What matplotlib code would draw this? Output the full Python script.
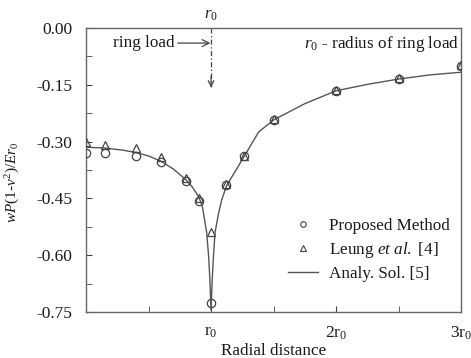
import matplotlib
matplotlib.use("Agg")
import matplotlib.pyplot as plt
from matplotlib.lines import Line2D

plt.rcParams['font.family'] = ['Liberation Serif', 'DejaVu Serif']
plt.rcParams['mathtext.fontset'] = 'custom'
plt.rcParams['mathtext.rm'] = 'Liberation Serif'
plt.rcParams['mathtext.it'] = 'Liberation Serif:italic'
plt.rcParams['mathtext.bf'] = 'Liberation Serif:bold'

# Data
x_pts = [0.0, 0.15, 0.4, 0.6, 0.8, 0.9, 1.0, 1.12, 1.26, 1.5, 2.0, 2.5, 3.0]
proposed = [-0.329, -0.329, -0.338, -0.354, -0.405, -0.458, -0.725, -0.416, -0.339, -0.242, -0.166, -0.134, -0.101]
leung = [-0.300, -0.310, -0.317, -0.341, -0.397, -0.449, -0.539, -0.413, -0.337, -0.240, -0.164, -0.132, -0.099]

x_line = [0.0, 0.15, 0.3, 0.4, 0.5, 0.6, 0.7, 0.8, 0.85, 0.9, 0.93, 0.965, 0.98, 0.99, 1.0,
          1.01, 1.02, 1.032, 1.06, 1.085, 1.125, 1.2, 1.26, 1.38, 1.5, 1.75, 2.0, 2.25, 2.5, 2.75, 3.0]
analy = [-0.315, -0.317, -0.323, -0.329, -0.338, -0.352, -0.373, -0.401, -0.42, -0.445, -0.47, -0.54,
         -0.60, -0.66, -0.745, -0.66, -0.60, -0.54, -0.49, -0.454, -0.416, -0.375, -0.342, -0.275,
         -0.243, -0.200, -0.166, -0.149, -0.135, -0.124, -0.117]

y_ticks = [0.00, -0.15, -0.30, -0.45, -0.60, -0.75]
y_ticklabels = ["0.00", "-0.15", "-0.30", "-0.45", "-0.60", "-0.75"]
x_ticks = [1, 2, 3]
x_ticklabels = [r"r$_{\rm 0}$", r"2r$_{\rm 0}$", r"3r$_{\rm 0}$"]

c = '#444444'
tc = '#1a1a1a'
fig = plt.figure(figsize=(4.71, 3.58), dpi=100)
ax = fig.add_axes([0.1826, 0.1285, 0.7964, 0.7935])

ax.plot(x_line, analy, color='#555555', lw=1.0, label='Analy. Sol. [5]', zorder=2)
ax.plot(x_pts, proposed, linestyle='none', marker='o', ms=6, mfc='none', mec=c, mew=0.9,
        label='Proposed Method', zorder=3)
ax.plot(x_pts, leung, linestyle='none', marker='^', ms=6, mfc='none', mec=c, mew=0.9,
        label=r'Leung $et\ al.$ [4]', zorder=3)

ax.set_xlim(0, 3)
ax.set_ylim(-0.75, 0.0)
ax.set_yticks(y_ticks)
ax.set_yticklabels(y_ticklabels)
ax.set_yticks([-0.075, -0.225, -0.375, -0.525, -0.675], minor=True)
ax.set_xticks(x_ticks)
ax.set_xticklabels(x_ticklabels)
ax.set_xticks([0.5, 1.5, 2.5], minor=True)
ax.tick_params(direction='in', which='both', colors=c, labelcolor=tc, labelsize=12.5)
ax.tick_params(which='major', length=4)
ax.tick_params(which='minor', length=4)
ax.tick_params(axis='x', pad=9)
ax.tick_params(axis='y', pad=10)
for s in ax.spines.values():
    s.set_color('#666666')
    s.set_linewidth(1.0)

ax.set_xlabel('Radial distance', fontsize=12.3, color=tc, labelpad=1)
ax.set_ylabel(r'$wP$(1-$\nu^2$)/$Er_{\rm 0}$', fontsize=11, color=tc)
ax.yaxis.set_label_coords(-0.171, 0.458)

# annotations
ax.text(1.0, 0.012, r'$r_{\rm 0}$', ha='center', va='bottom', fontsize=12, color=tc)
ax.plot([1.0, 1.0], [0.0, -0.155], color='#444444', lw=0.9, linestyle=(0, (4, 2, 1, 2)))
ax.annotate('', xy=(1.0, -0.165), xytext=(1.0, -0.12),
            arrowprops=dict(arrowstyle='->', color='#444444', lw=0.9))
ax.annotate('ring load', xy=(0.995, -0.04), xytext=(0.465, -0.04), fontsize=12.3, color=tc,
            ha='center', va='center',
            arrowprops=dict(arrowstyle='->', color='#444444', lw=0.9, shrinkA=0, shrinkB=0))
ax.text(2.985, -0.042, r'$r_{\rm 0}$ - radius of ring load', ha='right', va='center',
        fontsize=12.3, color=tc)

handles = [Line2D([], [], linestyle='none', marker='o', ms=4, mfc='none', mec=c, mew=0.8),
           Line2D([], [], linestyle='none', marker='^', ms=4, mfc='none', mec=c, mew=0.8),
           Line2D([], [], color='#555555', lw=1.0)]
labels = ['Proposed Method', r'Leung $et\ al.$ [4]', 'Analy. Sol. [5]']
ax.legend(handles, labels, loc='lower right', bbox_to_anchor=(1.01, 0.05), frameon=False,
          fontsize=12.3, handlelength=1.75, handletextpad=0.64, labelspacing=0.35,
          labelcolor=tc)

fig.savefig('out.png', dpi=100)
